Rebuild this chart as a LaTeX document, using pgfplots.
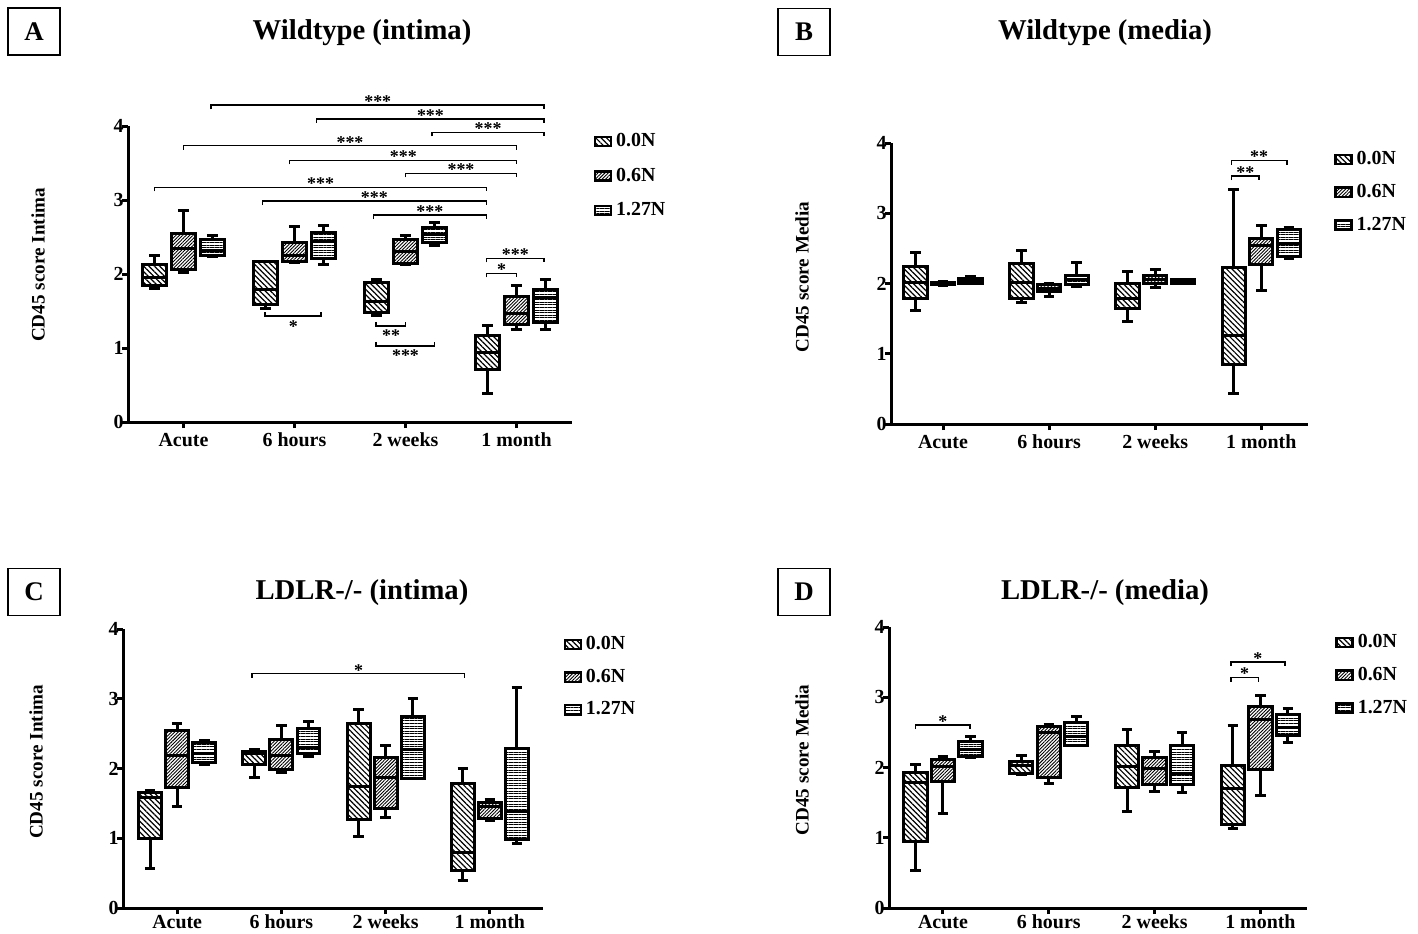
\documentclass[border=0pt]{standalone}
\usepackage{fontspec}
\setmainfont{Liberation Serif}
\usepackage{pgfplots}
\pgfplotsset{compat=1.18}
\usepgfplotslibrary{statistics}
\usetikzlibrary{patterns.meta}

\tikzset{
 pA/.style={pattern={Lines[angle=-45,distance=1.9bp,line width=0.6bp]}},
 pB/.style={pattern={Lines[angle=45,distance=1.2bp,line width=0.45bp]}},
 pC/.style={pattern={Lines[angle=0,distance=1.3bp,line width=0.45bp]}},
}
\newcommand{\tickfont}{\bfseries\fontsize{10}{12}\selectfont}
\pgfplotsset{
 panel/.style={
   scale only axis, axis x line=bottom, axis y line=left,
   axis line style={-, line width=1.5bp},
   tick align=outside, major tick length=3bp,
   tick style={line width=1.5bp, black},
   ymin=0, ymax=4, ytick={0,1,2,3,4}, yticklabels={0,1,2,3,4},
   xtick={0,1,2,3}, xticklabels={Acute,6 hours,2 weeks,1 month},
   tick label style={font=\tickfont},
   yticklabel style={inner xsep=0pt, xshift=1bp},
   xticklabel style={yshift=1bp},
   /pgf/number format/assume math mode=true,
   clip=false,
   legend style={draw=none, fill=none, anchor=north west, inner sep=0pt,
     row sep=4.3bp, font=\tickfont,
     /tikz/every even column/.append style={column sep=1.5bp}},
   legend cell align=left,
   legend image code/.code={\draw[#1, line width=1.2bp] (0bp,-2.3bp) rectangle (8bp,2.3bp);},
 },
}
\newcommand{\bx}[7]{\addplot[forget plot, draw=black, line width=1.5bp,
  boxplot prepared={draw direction=y, draw position=#1, lower whisker=#2, lower quartile=#3,
   median=#4, upper quartile=#5, upper whisker=#6, box extend=0.22,
   whisker extend=0.1, every box/.style={/tikz/#7}}] coordinates {};}
% x1, x2, y, mid, stars
\newcommand{\sig}[5]{%
 \draw[line width=0.8bp] ([yshift=-2bp]axis cs:#1,#3) -- (axis cs:#1,#3) -- (axis cs:#2,#3) -- ([yshift=-2bp]axis cs:#2,#3);
 \node[anchor=base, inner sep=0pt, yshift=-1.2bp, font=\bfseries\fontsize{9}{9}\selectfont] at (axis cs:#4,#3) {#5};}
\newcommand{\sigd}[5]{%
 \draw[line width=0.8bp] ([yshift=2bp]axis cs:#1,#3) -- (axis cs:#1,#3) -- (axis cs:#2,#3) -- ([yshift=2bp]axis cs:#2,#3);
 \node[anchor=base, inner sep=0pt, yshift=-8bp, font=\bfseries\fontsize{9}{9}\selectfont] at (axis cs:#4,#3) {#5};}
\newcommand{\leg}{%
 \addlegendimage{draw=black, pA}\addlegendentry{0.0N}
 \addlegendimage{draw=black, pB}\addlegendentry{0.6N}
 \addlegendimage{draw=black, pC}\addlegendentry{1.27N}}

\begin{document}
\begin{tikzpicture}
\useasboundingbox (0,0) rectangle (709bp,-467bp);
\tikzset{lab/.style={draw=black, line width=0.9bp, minimum width=26bp, minimum height=23.5bp, inner sep=0pt, font=\bfseries\fontsize{13.5}{15}\selectfont},
 ttl/.style={font=\bfseries\fontsize{14.4}{17}\selectfont},
 yl/.style={rotate=90, font=\bfseries\fontsize{9.6}{11}\selectfont}}
\node[lab] at (17bp,-15.75bp) {A};
\node[ttl] at (181bp,-16.5bp) {Wildtype (intima)};
\node[lab] at (402bp,-16bp) {B};
\node[ttl] at (552.5bp,-16.5bp) {Wildtype (media)};
\node[lab] at (17bp,-296bp) {C};
\node[ttl] at (181bp,-296.5bp) {LDLR-/- (intima)};
\node[lab] at (402bp,-296bp) {D};
\node[ttl] at (552.5bp,-296.5bp) {LDLR-/- (media)};
\node[yl] at (19bp,-132.5bp) {CD45 score Intima};
\node[yl] at (401bp,-138.5bp) {CD45 score Media};
\node[yl] at (18bp,-381bp) {CD45 score Intima};
\node[yl] at (401bp,-380bp) {CD45 score Media};

% Panel A
\begin{axis}[panel, at={(64bp,-211bp)}, anchor=south west, width=222bp, height=148bp,
  xmin=-0.5, xmax=3.5, legend style={at={(1.048,0.99)}, row sep=5.2bp}]
\bx{-0.26}{1.80}{1.85}{1.95}{2.13}{2.25}{pA}
\bx{0}{2.025}{2.06}{2.345}{2.55}{2.855}{pB}
\bx{0.26}{2.24}{2.25}{2.32}{2.47}{2.525}{pC}
\bx{0.74}{1.53}{1.59}{1.79}{2.165}{2.17}{pA}
\bx{1}{2.16}{2.165}{2.245}{2.43}{2.64}{pB}
\bx{1.26}{2.13}{2.21}{2.435}{2.56}{2.65}{pC}
\bx{1.74}{1.44}{1.48}{1.63}{1.885}{1.925}{pA}
\bx{2}{2.13}{2.14}{2.31}{2.46}{2.515}{pB}
\bx{2.26}{2.38}{2.42}{2.535}{2.625}{2.69}{pC}
\bx{2.74}{0.38}{0.71}{0.94}{1.17}{1.30}{pA}
\bx{3}{1.25}{1.32}{1.465}{1.69}{1.85}{pB}
\bx{3.26}{1.25}{1.345}{1.68}{1.79}{1.925}{pC}
\leg
\sig{0.25}{3.25}{4.28}{1.75}{***}
\sig{1.20}{3.25}{4.095}{2.225}{***}
\sig{2.24}{3.25}{3.914}{2.745}{***}
\sig{0.0}{3.0}{3.734}{1.5}{***}
\sig{0.955}{3.0}{3.535}{1.98}{***}
\sig{2.0}{3.0}{3.36}{2.5}{***}
\sig{-0.26}{2.73}{3.17}{1.235}{***}
\sig{0.71}{2.73}{2.985}{1.72}{***}
\sig{1.71}{2.73}{2.796}{2.22}{***}
\sig{2.73}{3.25}{2.21}{2.99}{***}
\sig{2.73}{3.0}{2.007}{2.865}{*}
\sigd{0.735}{1.24}{1.43}{0.99}{*}
\sigd{1.735}{2.0}{1.30}{1.87}{**}
\sigd{1.735}{2.26}{1.03}{2.0}{***}
\end{axis}

% Panel B
\begin{axis}[panel, at={(445.5bp,-212bp)}, anchor=south west, width=208.5bp, height=140.5bp,
  xmin=-0.49, xmax=3.44, legend style={at={(1.062,0.986)}}]
\bx{-0.26}{1.62}{1.78}{2.01}{2.24}{2.44}{pA}
\bx{0}{1.97}{1.985}{2.00}{2.02}{2.03}{pB}
\bx{0.26}{1.995}{1.995}{2.04}{2.075}{2.10}{pC}
\bx{0.74}{1.725}{1.79}{2.02}{2.29}{2.47}{pA}
\bx{1}{1.81}{1.88}{1.93}{1.98}{2.0}{pB}
\bx{1.26}{1.96}{1.99}{2.06}{2.12}{2.30}{pC}
\bx{1.74}{1.455}{1.64}{1.78}{1.995}{2.175}{pA}
\bx{2}{1.945}{2.0}{2.06}{2.11}{2.20}{pB}
\bx{2.26}{2.0}{2.0}{2.03}{2.05}{2.06}{pC}
\bx{2.74}{0.436}{0.853}{1.265}{2.23}{3.34}{pA}
\bx{3}{1.905}{2.27}{2.535}{2.64}{2.82}{pB}
\bx{3.26}{2.36}{2.38}{2.57}{2.77}{2.80}{pC}
\leg
\sig{2.72}{3.24}{3.75}{2.98}{**}
\sig{2.72}{2.98}{3.53}{2.85}{**}
\end{axis}

% Panel C
\begin{axis}[panel, at={(61.5bp,-454bp)}, anchor=south west, width=210bp, height=139.5bp,
  xmin=-0.52, xmax=3.51, legend style={at={(1.048,0.99)}}, xticklabel style={yshift=2bp}]
\bx{-0.26}{0.57}{1.0}{1.59}{1.655}{1.69}{pA}
\bx{0}{1.45}{1.73}{2.19}{2.54}{2.65}{pB}
\bx{0.26}{2.06}{2.09}{2.22}{2.38}{2.40}{pC}
\bx{0.74}{1.875}{2.06}{2.21}{2.25}{2.27}{pA}
\bx{1}{1.95}{1.98}{2.18}{2.42}{2.61}{pB}
\bx{1.26}{2.17}{2.21}{2.30}{2.58}{2.68}{pC}
\bx{1.74}{1.02}{1.275}{1.74}{2.65}{2.84}{pA}
\bx{2}{1.30}{1.42}{1.87}{2.16}{2.33}{pB}
\bx{2.26}{1.85}{1.85}{2.27}{2.75}{3.0}{pC}
\bx{2.74}{0.40}{0.54}{0.79}{1.79}{2.0}{pA}
\bx{3}{1.25}{1.29}{1.46}{1.51}{1.56}{pB}
\bx{3.26}{0.92}{0.98}{1.38}{2.28}{3.155}{pC}
\leg
\sig{0.72}{2.755}{3.36}{1.74}{*}
\end{axis}

% Panel D
\begin{axis}[panel, at={(444.5bp,-454bp)}, anchor=south west, width=209bp, height=140.5bp,
  xmin=-0.51, xmax=3.44, legend style={at={(1.067,0.99)}}, xticklabel style={yshift=2bp}]
\bx{-0.26}{0.53}{0.94}{1.79}{1.93}{2.05}{pA}
\bx{0}{1.35}{1.80}{2.02}{2.12}{2.16}{pB}
\bx{0.26}{2.145}{2.16}{2.26}{2.37}{2.435}{pC}
\bx{0.74}{1.90}{1.92}{2.035}{2.08}{2.17}{pA}
\bx{1}{1.775}{1.855}{2.50}{2.58}{2.61}{pB}
\bx{1.26}{2.31}{2.32}{2.44}{2.64}{2.72}{pC}
\bx{1.74}{1.37}{1.72}{2.02}{2.315}{2.535}{pA}
\bx{2}{1.665}{1.755}{1.99}{2.14}{2.23}{pB}
\bx{2.26}{1.645}{1.755}{1.91}{2.315}{2.50}{pC}
\bx{2.74}{1.13}{1.19}{1.70}{2.03}{2.60}{pA}
\bx{3}{1.60}{1.965}{2.68}{2.87}{3.02}{pB}
\bx{3.26}{2.355}{2.46}{2.57}{2.76}{2.845}{pC}
\leg
\sig{-0.26}{0.255}{2.605}{0.0}{*}
\sig{2.72}{3.23}{3.50}{2.975}{*}
\sig{2.72}{2.98}{3.28}{2.85}{*}
\end{axis}
\end{tikzpicture}
\end{document}
